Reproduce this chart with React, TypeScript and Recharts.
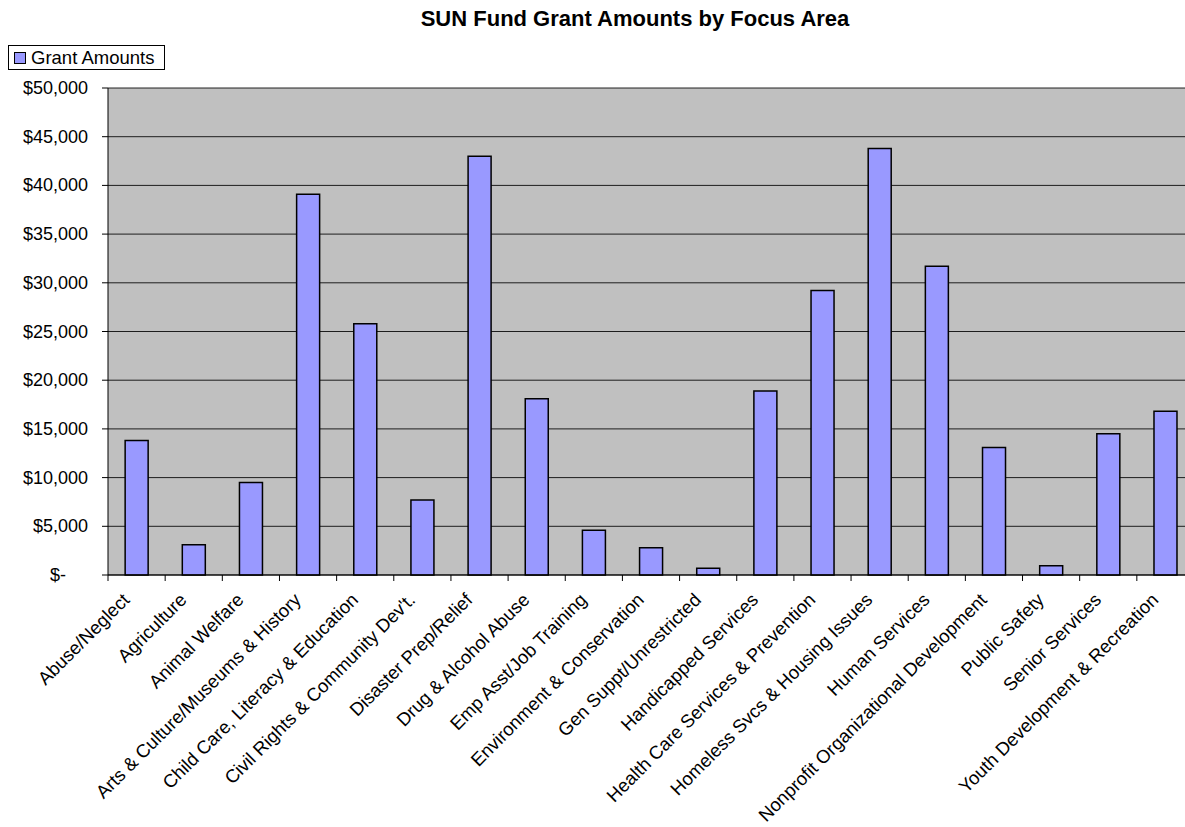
import { BarChart, Bar, XAxis, YAxis, CartesianGrid } from 'recharts';

const categories = [
  'Abuse/Neglect',
  'Agriculture',
  'Animal Welfare',
  'Arts & Culture/Museums & History',
  'Child Care, Literacy & Education',
  "Civil Rights & Community Dev't.",
  'Disaster Prep/Relief',
  'Drug & Alcohol Abuse',
  'Emp Asst/Job Training',
  'Environment & Conservation',
  'Gen Suppt/Unrestricted',
  'Handicapped Services',
  'Health Care Services & Prevention',
  'Homeless Svcs & Housing Issues',
  'Human Services',
  'Nonprofit Organizational Development',
  'Public Safety',
  'Senior Services',
  'Youth Development & Recreation',
];

const grantAmounts = [
  13800, 3100, 9500, 39100, 25800, 7700, 43000, 18100, 4600, 2800, 700, 18900, 29200, 43800,
  31700, 13100, 950, 14500, 16800,
];

const yTicks = [0, 5000, 10000, 15000, 20000, 25000, 30000, 35000, 40000, 45000, 50000];

const data = categories.map((name, i) => ({ name, amount: grantAmounts[i] }));

const FONT = 'Liberation Sans, Arial, sans-serif';
const CHART_W = 1196;
const CHART_H = 827;
const MARGIN = { top: 88, right: 2, left: 0, bottom: 0 };
const Y_AXIS_W = 108;
const BAND = (CHART_W - MARGIN.left - MARGIN.right - Y_AXIS_W) / categories.length;

function formatMoney(v: number): string {
  if (v === 0) return '$-';
  return '$' + v.toLocaleString('en-US');
}

function YTick(props: any) {
  const { x, y, payload } = props;
  const v = payload.value as number;
  return (
    <text
      x={v === 0 ? x - 22 : x}
      y={y}
      textAnchor="end"
      dominantBaseline="central"
      fontFamily={FONT}
      fontSize={18}
      fill="#000"
    >
      {formatMoney(v)}
    </text>
  );
}

function XTick(props: any) {
  const { x, y, payload, index } = props;
  const axisY = y - 8;
  const tx = x - 6;
  const ty = axisY + 26;
  return (
    <g>
      <line x1={x - BAND / 2} y1={axisY} x2={x - BAND / 2} y2={axisY + 6} stroke="#000" />
      {index === categories.length - 1 && (
        <line x1={x + BAND / 2} y1={axisY} x2={x + BAND / 2} y2={axisY + 6} stroke="#000" />
      )}
      <text
        x={tx}
        y={ty}
        textAnchor="end"
        fontFamily={FONT}
        fontSize={18.5}
        fill="#000"
        transform={`rotate(-45 ${tx} ${ty})`}
      >
        {payload.value}
      </text>
    </g>
  );
}

export default function App() {
  return (
    <div
      style={{
        position: 'absolute',
        left: 0,
        top: 0,
        width: 1185,
        height: CHART_H,
        overflow: 'hidden',
        background: '#fff',
        fontFamily: FONT,
      }}
    >
      <div
        style={{
          position: 'absolute',
          left: 0,
          top: 4,
          width: 1270,
          textAlign: 'center',
          fontSize: 22,
          fontWeight: 'bold',
          lineHeight: '30px',
          color: '#000',
        }}
      >
        SUN Fund Grant Amounts by Focus Area
      </div>

      <div
        style={{
          position: 'absolute',
          left: 8,
          top: 45,
          width: 155,
          height: 23,
          border: '1px solid #000',
          display: 'flex',
          alignItems: 'center',
          fontSize: 18.5,
          color: '#000',
          zIndex: 2,
        }}
      >
        <span
          style={{
            display: 'inline-block',
            width: 10,
            height: 10,
            marginLeft: 5,
            marginRight: 5,
            background: '#9999FF',
            border: '1px solid #000',
          }}
        />
        Grant Amounts
      </div>

      <BarChart
        width={CHART_W}
        height={CHART_H}
        data={data}
        margin={MARGIN}
        barCategoryGap="30%"
      >
        <CartesianGrid vertical={false} stroke="#000" strokeOpacity={0.85} fill="#C0C0C0" />
        <XAxis
          dataKey="name"
          interval={0}
          height={CHART_H - 575}
          axisLine={{ stroke: '#000' }}
          tickLine={false}
          tick={<XTick />}
        />
        <YAxis
          width={Y_AXIS_W}
          domain={[0, 50000]}
          ticks={yTicks}
          interval={0}
          axisLine={{ stroke: '#000' }}
          tickLine={{ stroke: '#000' }}
          tickSize={6}
          tickMargin={14}
          tick={<YTick />}
        />
        <Bar
          dataKey="amount"
          fill="#9999FF"
          stroke="#000"
          strokeWidth={1.5}
          isAnimationActive={false}
        />
      </BarChart>
    </div>
  );
}
